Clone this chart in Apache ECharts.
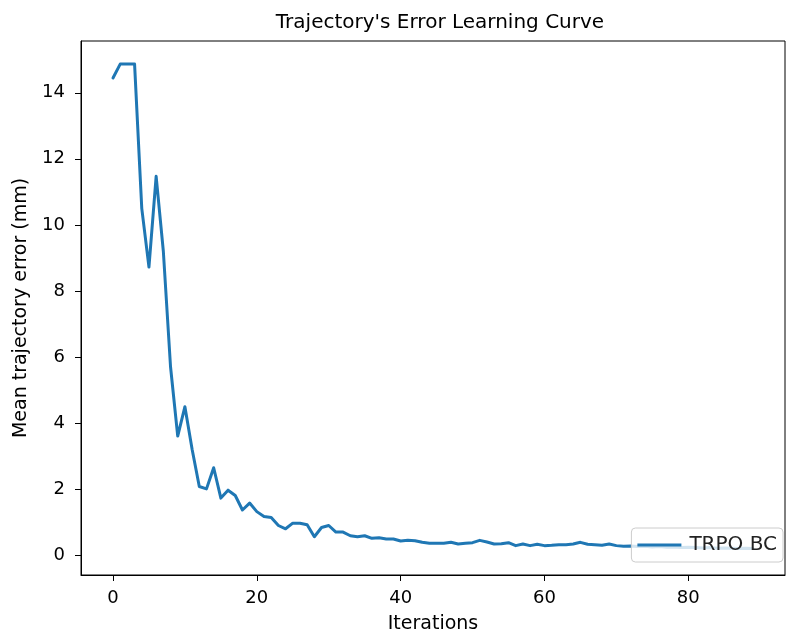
<!DOCTYPE html>
<html>
<head>
<meta charset="utf-8">
<script src="https://cdn.jsdelivr.net/npm/echarts@6/dist/echarts.min.js"></script>
<style>
  html, body { margin: 0; padding: 0; background: #fff; }
  #chart { width: 787px; height: 634px; }
</style>
</head>
<body>
<div id="chart"></div>
<script>
// Mean trajectory error per training iteration (TRPO BC)
const iterations = Array.from({ length: 90 }, (_, i) => i);
const meanError = [
  14.45, 14.87, 14.87, 14.87, 10.5, 8.72, 11.47, 9.2, 5.7, 3.6,
  4.49, 3.2, 2.07, 2.0, 2.64, 1.72, 1.96, 1.80, 1.36, 1.57,
  1.31, 1.16, 1.13, 0.89, 0.79, 0.96, 0.96, 0.91, 0.55, 0.83,
  0.89, 0.69, 0.69, 0.58, 0.55, 0.58, 0.50, 0.52, 0.48, 0.48,
  0.42, 0.44, 0.43, 0.38, 0.35, 0.35, 0.35, 0.38, 0.33, 0.35,
  0.37, 0.44, 0.39, 0.33, 0.34, 0.37, 0.28, 0.33, 0.28, 0.32,
  0.28, 0.29, 0.31, 0.31, 0.33, 0.38, 0.32, 0.31, 0.29, 0.33,
  0.28, 0.26, 0.27, 0.25, 0.26, 0.24, 0.25, 0.23, 0.24, 0.22,
  0.23, 0.22, 0.21, 0.22, 0.20, 0.21, 0.20, 0.19, 0.20, 0.19
];
const xTicks = [0, 20, 40, 60, 80];
const yTicks = [0, 2, 4, 6, 8, 10, 12, 14];

const FONT = 'DejaVu Sans';
const chart = echarts.init(document.getElementById('chart'), null, { renderer: 'canvas' });

chart.setOption({
  backgroundColor: '#ffffff',
  animation: false,
  title: {
    text: "Trajectory's Error Learning Curve",
    left: 435,
    top: 8,
    textAlign: 'center',
    textStyle: { fontFamily: FONT, fontSize: 20, fontWeight: 'normal', color: '#000' }
  },
  grid: {
    left: 81, right: 2, top: 41, bottom: 59,
    containLabel: false,
    outerBoundsMode: 'none',
    show: true, borderColor: '#000', borderWidth: 1, backgroundColor: 'transparent'
  },
  legend: {
    right: 4,
    top: 528,
    padding: [7, 6, 7, 6],
    backgroundColor: 'rgba(255,255,255,0.8)',
    borderColor: '#cccccc',
    borderWidth: 1,
    borderRadius: 4,
    icon: 'rect',
    itemWidth: 44,
    itemHeight: 3,
    itemGap: 10,
    textStyle: { fontFamily: FONT, fontSize: 20, color: '#222', padding: [0, 0, 0, 3] },
    data: ['TRPO BC']
  },
  xAxis: {
    type: 'value',
    min: -4.45,
    max: 93.45,
    name: 'Iterations',
    nameLocation: 'middle',
    nameGap: 40,
    nameTextStyle: { fontFamily: FONT, fontSize: 19, color: '#000' },
    axisLine: { show: true, onZero: false, lineStyle: { color: '#000', width: 1 } },
    axisTick: { show: true, length: 6, lineStyle: { color: '#000' }, customValues: xTicks },
    axisLabel: { fontFamily: FONT, fontSize: 18, color: '#000', margin: 14, customValues: xTicks },
    splitLine: { show: false }
  },
  yAxis: {
    type: 'value',
    min: -0.61,
    max: 15.57,
    name: 'Mean trajectory error (mm)',
    nameLocation: 'middle',
    nameGap: 50,
    nameTextStyle: { fontFamily: FONT, fontSize: 19, color: '#000' },
    axisLine: { show: true, onZero: false, lineStyle: { color: '#000', width: 1 } },
    axisTick: { show: true, length: 6, lineStyle: { color: '#000' }, customValues: yTicks },
    axisLabel: { fontFamily: FONT, fontSize: 18, color: '#000', margin: 16, customValues: yTicks },
    splitLine: { show: false }
  },
  series: [{
    name: 'TRPO BC',
    type: 'line',
    data: iterations.map((x, i) => [x, meanError[i]]),
    symbol: 'none',
    lineStyle: { color: '#1f77b4', width: 3, join: 'round', cap: 'round' },
    itemStyle: { color: '#1f77b4' }
  }]
});
</script>
</body>
</html>
